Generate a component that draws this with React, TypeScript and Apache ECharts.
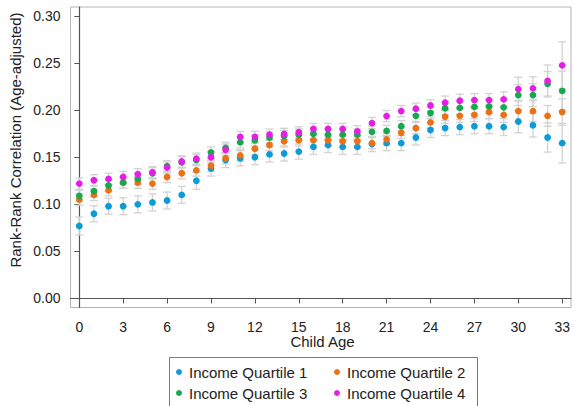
import React, { useEffect, useRef } from "react";
import * as echarts from "echarts";

const ages: number[] = Array.from({ length: 34 }, (_, i) => i);
const xTicks = [0, 3, 6, 9, 12, 15, 18, 21, 24, 27, 30, 33];
const yTicks = [0, 0.05, 0.1, 0.15, 0.2, 0.25, 0.3];

const seriesNames = ["Income Quartile 1", "Income Quartile 2", "Income Quartile 3", "Income Quartile 4"];
const colors = ["#0c9bd8", "#ec7014", "#14a94f", "#e41ee6"];
const xTitle = "Child Age";
const yTitle = "Rank-Rank Correlation (Age-adjusted)";

const q1 = [0.077, 0.090, 0.098, 0.098, 0.100, 0.102, 0.104, 0.110, 0.125, 0.138, 0.147, 0.149, 0.150, 0.153, 0.154, 0.156, 0.161, 0.163, 0.161, 0.161, 0.164, 0.165, 0.165, 0.171, 0.179, 0.181, 0.182, 0.183, 0.183, 0.182, 0.188, 0.184, 0.171, 0.165];
const q2 = [0.105, 0.110, 0.115, 0.123, 0.123, 0.122, 0.129, 0.133, 0.136, 0.141, 0.149, 0.152, 0.159, 0.163, 0.167, 0.168, 0.168, 0.168, 0.167, 0.167, 0.165, 0.169, 0.176, 0.181, 0.187, 0.193, 0.194, 0.195, 0.198, 0.195, 0.199, 0.199, 0.194, 0.198];
const q3 = [0.109, 0.114, 0.120, 0.123, 0.127, 0.133, 0.1405, 0.1445, 0.147, 0.155, 0.160, 0.166, 0.168, 0.171, 0.1725, 0.174, 0.175, 0.174, 0.174, 0.174, 0.177, 0.178, 0.183, 0.194, 0.197, 0.202, 0.2025, 0.2035, 0.204, 0.203, 0.216, 0.216, 0.228, 0.2205];
const q4 = [0.122, 0.1255, 0.127, 0.129, 0.132, 0.134, 0.139, 0.1455, 0.1485, 0.150, 0.158, 0.1715, 0.1717, 0.174, 0.1747, 0.1765, 0.180, 0.180, 0.180, 0.1775, 0.1863, 0.1937, 0.199, 0.2015, 0.205, 0.208, 0.210, 0.2107, 0.2107, 0.2115, 0.2224, 0.2232, 0.231, 0.2476];

// half-widths of the confidence intervals
const e1 = [0.0095, 0.0085, 0.0085, 0.009, 0.009, 0.009, 0.009, 0.009, 0.009, 0.008, 0.008, 0.008, 0.008, 0.008, 0.008, 0.008, 0.008, 0.008, 0.008, 0.008, 0.008, 0.008, 0.008, 0.008, 0.008, 0.008, 0.008, 0.008, 0.008, 0.009, 0.012, 0.0125, 0.0155, 0.021];
const e2 = [0.006, 0.006, 0.006, 0.006, 0.006, 0.006, 0.006, 0.006, 0.006, 0.006, 0.006, 0.006, 0.006, 0.006, 0.006, 0.006, 0.006, 0.006, 0.006, 0.006, 0.006, 0.006, 0.006, 0.006, 0.006, 0.007, 0.007, 0.007, 0.007, 0.008, 0.011, 0.011, 0.011, 0.014];
const e3 = [0.006, 0.006, 0.006, 0.006, 0.006, 0.006, 0.006, 0.006, 0.006, 0.006, 0.006, 0.006, 0.006, 0.006, 0.006, 0.006, 0.006, 0.006, 0.006, 0.006, 0.006, 0.006, 0.006, 0.006, 0.006, 0.007, 0.007, 0.007, 0.007, 0.008, 0.011, 0.012, 0.013, 0.021];
const e4 = [0.006, 0.006, 0.006, 0.006, 0.006, 0.006, 0.006, 0.006, 0.006, 0.006, 0.006, 0.006, 0.006, 0.006, 0.006, 0.006, 0.006, 0.006, 0.006, 0.006, 0.006, 0.006, 0.006, 0.006, 0.006, 0.007, 0.007, 0.007, 0.007, 0.008, 0.0126, 0.0123, 0.017, 0.025];

const values = [q1, q2, q3, q4];
const errors = [e1, e2, e3, e4];

const FONT = "'Liberation Sans', Arial, sans-serif";

export default function App() {
  const ref = useRef<HTMLDivElement>(null);
  useEffect(() => {
    document.body.style.margin = "0";
    const chart = echarts.init(ref.current!, null, { renderer: "svg" });

    const errSeries = values.map((vals, qi) => ({
      type: "custom",
      name: "err" + qi,
      silent: true,
      z: 1,
      data: ages.map((a, i) => [a, vals[i] - errors[qi][i], vals[i] + errors[qi][i]]),
      encode: { x: 0, y: [1, 2] },
      renderItem: (params: any, api: any) => {
        const x = api.value(0);
        const lo = api.coord([x, api.value(1)]);
        const hi = api.coord([x, api.value(2)]);
        const cw = 4;
        const style = { stroke: "#d2d2d2", lineWidth: 1.3, fill: "none" };
        return {
          type: "group",
          children: [
            { type: "line", shape: { x1: lo[0], y1: lo[1], x2: hi[0], y2: hi[1] }, style },
            { type: "line", shape: { x1: lo[0] - cw, y1: lo[1], x2: lo[0] + cw, y2: lo[1] }, style },
            { type: "line", shape: { x1: hi[0] - cw, y1: hi[1], x2: hi[0] + cw, y2: hi[1] }, style },
          ],
        };
      },
    }));

    const scatterSeries = values.map((vals, qi) => ({
      type: "scatter",
      name: seriesNames[qi],
      z: 3,
      symbol: "circle",
      symbolSize: 6.8,
      itemStyle: { color: colors[qi], opacity: 1 },
      data: ages.map((a, i) => [a, vals[i]]),
    }));

    const legendPos = [
      { left: 176, top: 364.5 },
      { left: 334, top: 364.5 },
      { left: 176, top: 385.5 },
      { left: 334, top: 385.5 },
    ];

    chart.setOption({
      animation: false,
      backgroundColor: "#ffffff",
      textStyle: { fontFamily: FONT },
      grid: {
        left: 70.5,
        top: 7,
        width: 504,
        height: 300.5,
        show: true,
        borderColor: "#b5b5b5",
        borderWidth: 1,
        backgroundColor: "#ffffff",
      },
      xAxis: {
        type: "value",
        min: -0.6,
        max: 33.6,
        axisLine: { show: true, lineStyle: { color: "#555", width: 1.2 } },
        axisTick: { show: true, length: 5, customValues: xTicks, lineStyle: { color: "#555" } },
        axisLabel: {
          customValues: xTicks,
          fontSize: 14,
          color: "#222",
          margin: 12,
          fontFamily: FONT,
        },
        splitLine: { show: false },
      },
      yAxis: {
        type: "value",
        min: -0.0096,
        max: 0.3096,
        axisLine: { show: true, lineStyle: { color: "#555", width: 1.2 } },
        axisTick: { show: true, length: 5, customValues: yTicks, lineStyle: { color: "#555" } },
        axisLabel: {
          customValues: yTicks,
          fontSize: 14,
          color: "#222",
          margin: 10,
          fontFamily: FONT,
          formatter: (v: number) => v.toFixed(2),
        },
        splitLine: { show: false },
      },
      legend: seriesNames.map((n, i) => ({
        data: [n],
        left: legendPos[i].left,
        top: legendPos[i].top,
        padding: 0,
        icon: "circle",
        itemWidth: 6,
        itemHeight: 6,
        itemGap: 0,
        textStyle: { fontSize: 15, color: "#222", fontFamily: FONT, padding: [0, 0, 0, 2] },
        selectedMode: false,
        z: 5,
      })),
      graphic: [
        {
          type: "rect",
          z: 0,
          shape: { x: 169.5, y: 357.5, width: 308, height: 60 },
          style: { fill: "#ffffff", stroke: "#7a7a7a", lineWidth: 1 },
        },
        {
          type: "text",
          x: 322.5,
          y: 341.5,
          style: {
            text: xTitle,
            fontSize: 15,
            fontFamily: FONT,
            fill: "#222",
            align: "center",
            verticalAlign: "middle",
          },
        },
        {
          type: "text",
          x: 15,
          y: 140,
          rotation: Math.PI / 2,
          style: {
            text: yTitle,
            fontSize: 15,
            fontFamily: FONT,
            fill: "#222",
            align: "center",
            verticalAlign: "middle",
          },
        },
      ],
      series: [...errSeries, ...scatterSeries],
    });
    return () => chart.dispose();
  }, []);
  return (
    <div
      ref={ref}
      style={{ position: "absolute", left: 0, top: 0, width: 573, height: 406 }}
    />
  );
}
